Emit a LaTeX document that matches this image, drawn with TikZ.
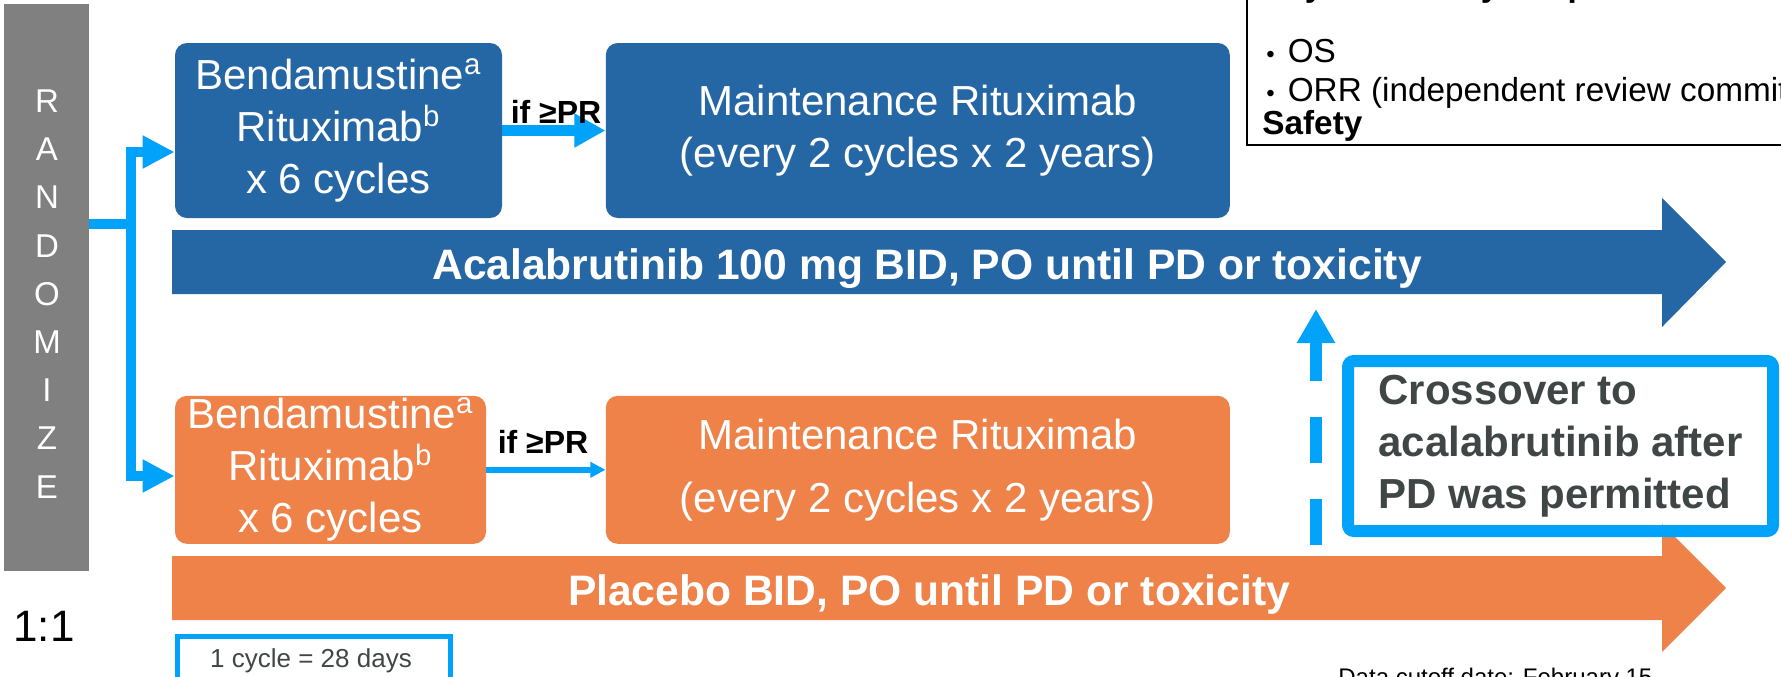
\documentclass[tikz,border=0pt]{standalone}
\usepackage{fontspec}
\setmainfont{Liberation Sans}
\usetikzlibrary{arrows.meta,positioning,calc}
\definecolor{EchoBlue}{HTML}{2566A5}
\definecolor{EchoOrange}{HTML}{EE8249}
\definecolor{EchoCyan}{HTML}{00A2FA}
\definecolor{EchoGrey}{HTML}{808080}
\definecolor{EchoText}{HTML}{404646}

\begin{document}
\begin{tikzpicture}[x=0.5pt,y=-0.5pt,
  arm/.style={rounded corners=6pt,text=white,align=center,inner sep=0pt,font=\fontsize{21}{26}\selectfont},
  flow/.style={draw=EchoCyan,line width=5pt},
  ifpr/.style={font=\bfseries\fontsize{16}{16}\selectfont,inner sep=0pt,anchor=base},
  banner/.style={font=\bfseries\fontsize{21.3}{21.3}\selectfont,text=white,inner sep=0pt,anchor=base},
  listline/.style={anchor=base west,inner sep=0pt,font=\fontsize{16.65}{16.65}\selectfont}]
  \useasboundingbox (0,0) rectangle (1781,676);
  \clip (0,0) rectangle (1781,676);

  % randomisation
  \node[fill=EchoGrey,minimum width=42.5pt,minimum height=283.5pt,inner sep=0pt] (rand) at (46.5,287.5) {};
  \node[text=white,align=center,inner sep=0pt,font=\fontsize{16.5}{24.1}\selectfont] (randtxt) at (47,294) {R\\A\\N\\D\\O\\M\\I\\Z\\E};
  \node[font=\fontsize{22}{22}\selectfont,inner sep=0pt] (ratio) at (44,626) {1:1};

  % arm boxes
  \node[arm,fill=EchoBlue,minimum width=163.5pt,minimum height=87.5pt] (bendA) at (338.5,130.5) {Bendamustine\textsuperscript{a}\\Rituximab\textsuperscript{b}\\x 6 cycles};
  \node[arm,fill=EchoBlue,minimum width=312pt,minimum height=87.5pt,right=51.5pt of bendA] (maintA) {Maintenance Rituximab\\(every 2 cycles x 2 years)};
  \node[arm,fill=EchoOrange,minimum width=155.5pt,minimum height=74pt,below=88.5pt of bendA.south west,anchor=north west] (bendB) {Bendamustine\textsuperscript{a}\\Rituximab\textsuperscript{b}\\x 6 cycles};
  \node[arm,fill=EchoOrange,minimum width=312pt,minimum height=74pt,below=88.5pt of maintA] (maintB) {Maintenance Rituximab\\[5.5pt](every 2 cycles x 2 years)};

  % response arrows
  \draw[EchoCyan,line width=5.5pt,-{Triangle[length=15.5pt,width=16pt]}] (bendA) -- (maintA);
  \node[ifpr] (ifA) at (556,123) {if ≥PR};
  \draw[EchoCyan,line width=3pt,-{Triangle[length=7.5pt,width=7.5pt]}] (bendB) -- (maintB);
  \node[ifpr] (ifB) at (543,453) {if ≥PR};

  % treatment arrows
  \fill[EchoBlue] (172,230) -- (1662,230) -- (1662,198) -- (1726,262) -- (1662,327) -- (1662,294) -- (172,294) -- cycle;
  \node[banner] (acala) at (927,279) {Acalabrutinib 100 mg BID, PO until PD or toxicity};
  \fill[EchoOrange] (172,556) -- (1662,556) -- (1662,524) -- (1726,588) -- (1662,652) -- (1662,620) -- (172,620) -- cycle;
  \node[banner] (placebo) at (929,605) {Placebo BID, PO until PD or toxicity};

  % split after randomisation
  \coordinate (split) at (131,224);
  \coordinate (toA) at (131,152);
  \coordinate (toB) at (131,476);
  \draw[flow] (rand.east |- split) -- (split);
  \draw[flow,-{Triangle[length=16pt,width=15.5pt]}] (split) -- (toA) -- (bendA.west |- toA);
  \draw[flow,-{Triangle[length=16pt,width=15.5pt]}] (split) -- (toB) -- (bendB.west |- toB);

  % crossover
  \node[draw=EchoCyan,line width=6pt,rounded corners=3pt,minimum width=212.5pt,minimum height=85pt,inner sep=0pt,align=left,text=EchoText,font=\bfseries\fontsize{21}{26}\selectfont] (xo) at (1560.5,446) {Crossover to\\acalabrutinib after\\PD was permitted};
  \coordinate (xoBot) at (1316,545);
  \coordinate (xoTop) at (1316,309);
  \draw[EchoCyan,line width=6pt,dash pattern=on 23pt off 18pt,-{Triangle[length=17pt,width=18pt]}] (xoBot) -- (xoTop);

  % endpoints box
  \node[draw=black,line width=1pt,anchor=south west,minimum width=300pt,minimum height=120pt,inner sep=0pt] (endpts) at (1246,146) {};
  \node[listline,font=\bfseries\fontsize{16.65}{16.65}\selectfont] (keyend) at (1262,-4) {Key secondary endpoints};
  \node[listline] (osline) at (1266,62) {{\fontsize{12}{12}\selectfont•}\hspace{6.5pt}OS};
  \node[listline] (orrline) at (1266,101) {{\fontsize{12}{12}\selectfont•}\hspace{6.5pt}ORR (independent review committee)};
  \node[listline,font=\bfseries\fontsize{16.65}{16.65}\selectfont] (safety) at (1262,134) {Safety};

  % footnotes
  \node[draw=EchoCyan,line width=2.5pt,minimum width=136.5pt,minimum height=50pt,anchor=north west,inner sep=0pt] (cycle) at (174.5,633.5) {};
  \node[anchor=base,inner sep=0pt,font=\fontsize{13}{13}\selectfont,text=EchoText] (cycletxt) at (311,667) {1 cycle = 28 days};
  \node[anchor=base west,inner sep=0pt,font=\fontsize{12}{12}\selectfont] (cutoff) at (1338,685) {Data cutoff date: February 15};
\end{tikzpicture}
\end{document}
